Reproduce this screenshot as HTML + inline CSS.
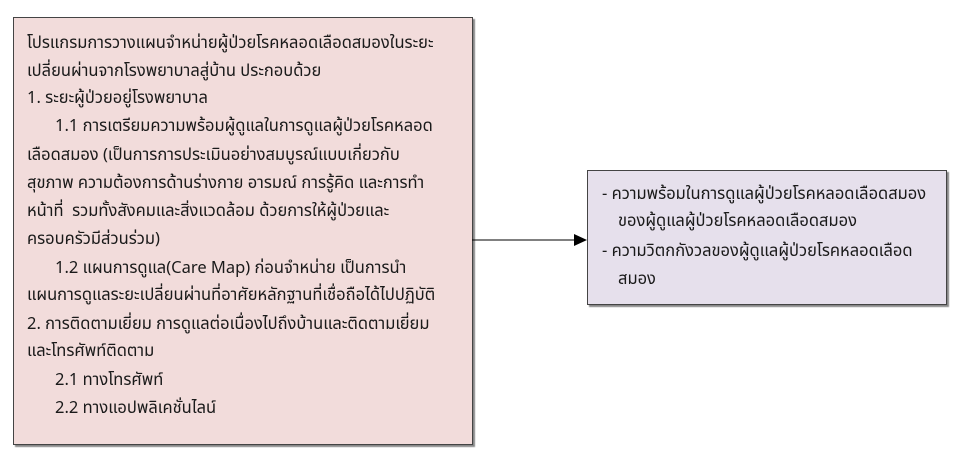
<!DOCTYPE html>
<html><head><meta charset="utf-8"><style>
body{margin:0;width:975px;height:457px;background:#fff;position:relative;overflow:hidden;font-family:"Tahoma","Leelawadee UI","Noto Sans Thai","Loma","Garuda","Norasi","Liberation Sans",sans-serif;font-size:16.5px;color:#1a1a1a}
.box{position:absolute;border:1px solid #444;box-shadow:2px 2px 1px #888;overflow:hidden}
.l{position:absolute;white-space:nowrap;line-height:20px}
</style></head><body>
<div class="box" style="left:13px;top:17px;width:458px;height:426px;background:#f2dcdb"></div>
<div class="l" style="left:27px;top:34px">โปรแกรมการวางแผนจำหน่ายผู้ป่วยโรคหลอดเลือดสมองในระยะ</div>
<div class="l" style="left:27px;top:62px">เปลี่ยนผ่านจากโรงพยาบาลสู่บ้าน ประกอบด้วย</div>
<div class="l" style="left:27px;top:89px">1. ระยะผู้ป่วยอยู่โรงพยาบาล</div>
<div class="l" style="left:55px;top:117px">1.1 การเตรียมความพร้อมผู้ดูแลในการดูแลผู้ป่วยโรคหลอด</div>
<div class="l" style="left:27px;top:146px">เลือดสมอง (เป็นการการประเมินอย่างสมบูรณ์แบบเกี่ยวกับ</div>
<div class="l" style="left:27px;top:174px">สุขภาพ ความต้องการด้านร่างกาย อารมณ์ การรู้คิด และการทำ</div>
<div class="l" style="left:27px;top:202px">หน้าที่&nbsp; รวมทั้งสังคมและสิ่งแวดล้อม ด้วยการให้ผู้ป่วยและ</div>
<div class="l" style="left:27px;top:230px">ครอบครัวมีส่วนร่วม)</div>
<div class="l" style="left:55px;top:259px">1.2 แผนการดูแล(Care Map) ก่อนจำหน่าย เป็นการนำ</div>
<div class="l" style="left:27px;top:286px">แผนการดูแลระยะเปลี่ยนผ่านที่อาศัยหลักฐานที่เชื่อถือได้ไปปฏิบัติ</div>
<div class="l" style="left:27px;top:315px">2. การติดตามเยี่ยม การดูแลต่อเนื่องไปถึงบ้านและติดตามเยี่ยม</div>
<div class="l" style="left:27px;top:342px">และโทรศัพท์ติดตาม</div>
<div class="l" style="left:55px;top:371px">2.1 ทางโทรศัพท์</div>
<div class="l" style="left:55px;top:399px">2.2 ทางแอปพลิเคชั่นไลน์</div>
<svg style="position:absolute;left:0;top:0" width="975" height="457">
<line x1="472" y1="240" x2="576" y2="240" stroke="#000" stroke-width="1"/>
<polygon points="574,234 587,240 574,246" fill="#000"/>
</svg>
<div class="box" style="left:587px;top:170px;width:358px;height:133px;background:#e6e0ec">
<div class="l" style="left:14px;top:14px">- ความพร้อมในการดูแลผู้ป่วยโรคหลอดเลือดสมอง</div>
<div class="l" style="left:30px;top:41px">ของผู้ดูแลผู้ป่วยโรคหลอดเลือดสมอง</div>
<div class="l" style="left:14px;top:71px">- ความวิตกกังวลของผู้ดูแลผู้ป่วยโรคหลอดเลือด</div>
<div class="l" style="left:30px;top:99px">สมอง</div>
</div>
</body></html>
